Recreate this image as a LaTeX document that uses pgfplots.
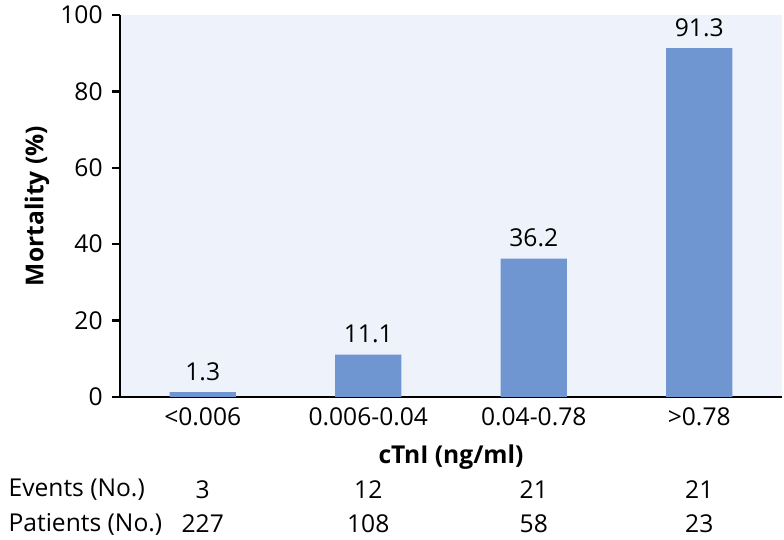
\documentclass[border=0pt]{standalone}
\usepackage{fontspec}
\setmainfont{Open Sans}
\usepackage{pgfplots}
\pgfplotsset{compat=1.18}
\definecolor{barblue}{RGB}{112,150,210}
\definecolor{panel}{RGB}{238,242,250}
\newcommand{\lblfont}{\fontsize{12.3}{14.8}\selectfont}
\begin{document}
\lblfont
\begin{tikzpicture}
\path[use as bounding box] (-60pt,-71.5pt) rectangle (332pt,198.5pt);
\begin{axis}[
    at={(0,0)}, anchor=south west,
    width=331pt, height=191pt, scale only axis,
    xmin=-0.5, xmax=3.5, ymin=0, ymax=100,
    axis x line*=bottom, axis y line*=left,
    axis line style={line width=1.2pt, -},
    axis background/.style={fill=panel},
    xtick={0,1,2,3},
    xticklabels={{<0.006},{0.006-0.04},{0.04-0.78},{>0.78}},
    x tick style={draw=none},
    ytick={0,20,40,60,80,100},
    y tick style={line width=1.2pt, black},
    tick align=outside, major tick length=4pt,
    /pgf/number format/assume math mode=true,
    ticklabel style={font=\lblfont},
    xticklabel style={anchor=center, yshift=-6pt},
    yticklabel style={anchor=east, inner sep=0pt, xshift=-4.5pt},
    xlabel={cTnI (ng/ml)},
    xlabel style={font=\lblfont\bfseries, at={(axis description cs:0.5,0)}, anchor=center, yshift=-30pt},
    ylabel={Mortality (\%)},
    ylabel style={font=\lblfont\bfseries, at={(axis description cs:0,0.5)}, anchor=center, yshift=41.5pt},
    ybar, bar width=0.4,
    nodes near coords={\pgfmathprintnumber[fixed,fixed zerofill,precision=1]{\pgfplotspointmeta}},
    every node near coord/.append style={anchor=south, inner sep=0pt, yshift=5.5pt, font=\lblfont},
    clip=false,
]
\addplot[fill=barblue, draw=none] coordinates {(0,1.3) (1,11.1) (2,36.2) (3,91.3)};
\node[anchor=west] at ([xshift=-60pt,yshift=-46.5pt]rel axis cs:0,0) {Events (No.)};
\node[anchor=west] at ([xshift=-60pt,yshift=-63.5pt]rel axis cs:0,0) {Patients (No.)};
\node at ([yshift=-46.5pt]axis cs:0,0) {3};
\node at ([yshift=-46.5pt]axis cs:1,0) {12};
\node at ([yshift=-46.5pt]axis cs:2,0) {21};
\node at ([yshift=-46.5pt]axis cs:3,0) {21};
\node at ([yshift=-63.5pt]axis cs:0,0) {227};
\node at ([yshift=-63.5pt]axis cs:1,0) {108};
\node at ([yshift=-63.5pt]axis cs:2,0) {58};
\node at ([yshift=-63.5pt]axis cs:3,0) {23};
\end{axis}
\end{tikzpicture}
\end{document}
